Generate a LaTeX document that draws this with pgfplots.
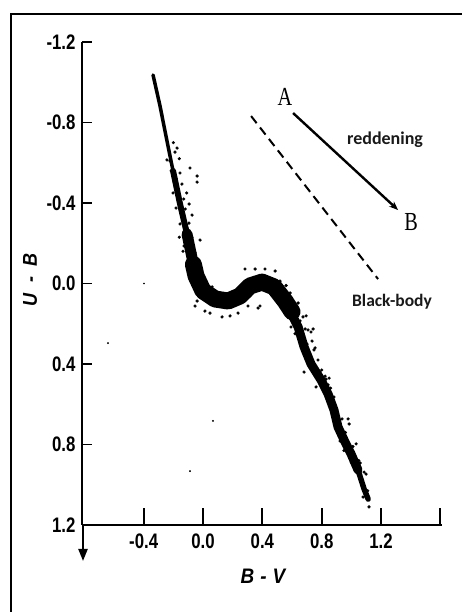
\documentclass[border=0pt]{standalone}
\usepackage{pgfplots}
\pgfplotsset{compat=1.18}
\usepackage{fontspec}
\usetikzlibrary{arrows.meta}
\newfontfamily\tickfont[FakeStretch=0.8]{Liberation Sans}
\newfontfamily\labfont[FakeStretch=0.9]{Liberation Sans}
\newfontfamily\serifcond[FakeStretch=0.78]{Liberation Serif}
\newfontfamily\carlito{Carlito}
\begin{document}
\begin{tikzpicture}[x=1pt,y=1pt]
\begin{axis}[at={(82pt,87pt)}, anchor=south west, scale only axis,
  width=360pt, height=483pt,
  xmin=-0.816, xmax=1.611, ymin=-1.2, ymax=1.2, y dir=reverse,
  axis x line=bottom, axis y line=left,
  axis line style={-, line width=2.2pt},
  tick align=inside,
  xtick={-0.4,0,0.4,0.8,1.2,1.6}, xticklabels={-0.4,0.0,0.4,0.8,1.2,{}},
  ytick={-1.2,-0.8,-0.4,0,0.4,0.8,1.2},
  yticklabels={-1.2,-0.8,-0.4,0.0,0.4,0.8,1.2},
  x tick style={line width=1.8pt, black, /pgfplots/major tick length=17pt},
  y tick style={line width=1.8pt, black, /pgfplots/major tick length=10pt},
  ticklabel style={font=\tickfont\bfseries\fontsize{21}{23}\selectfont},
  xticklabel style={yshift=-5pt}, yticklabel style={xshift=-3pt},
  clip=false]
% upper branch
\addplot[black, line width=3.5pt, line cap=round, line join=round] coordinates {
(-0.337,-1.036) (-0.290,-0.882) (-0.243,-0.708) (-0.202,-0.559) (-0.155,-0.395) (-0.108,-0.246)};
\addplot[black, line width=6pt, line cap=round, line join=round] coordinates {
(-0.202,-0.559) (-0.155,-0.395) (-0.108,-0.246) (-0.074,-0.127)};
\addplot[black, line width=11pt, line cap=round, line join=round] coordinates {
(-0.108,-0.246) (-0.074,-0.127) (-0.047,-0.037)};
% hump
\addplot[black, line width=17pt, line cap=round, line join=round] coordinates {
(-0.065,-0.095) (-0.047,-0.037) (0.000,0.037) (0.081,0.077) (0.169,0.087) (0.249,0.062) (0.317,0.012) (0.398,-0.007) (0.479,0.017) (0.553,0.087) (0.600,0.140)};
% lower branch
\addplot[black, line width=9pt, line cap=round, line join=round] coordinates {
(0.553,0.087) (0.573,0.117) (0.641,0.216) (0.681,0.315) (0.728,0.400) (0.796,0.480) (0.843,0.549) (0.883,0.629) (0.910,0.713) (0.951,0.778) (0.998,0.847) (1.045,0.927)};
\addplot[black, line width=5.5pt, line cap=round, line join=round] coordinates {
(0.998,0.847) (1.045,0.927) (1.086,1.022) (1.113,1.071)};
% scattered stars
\addplot[only marks, mark=*, mark size=1.4pt, black] coordinates {
(-0.175,-0.673) (-0.088,-0.574) (-0.040,-0.534) (-0.040,-0.504) (-0.094,-0.395)
(-0.074,-0.340) (-0.020,-0.216) (-0.189,-0.653) (-0.243,-0.614) (-0.155,-0.549)
(-0.142,-0.494) (-0.202,-0.450) (-0.182,-0.375) (-0.155,-0.296) (-0.108,-0.276)
(-0.128,-0.186) (-0.054,-0.152) (-0.223,-0.609) (-0.169,-0.460) (-0.128,-0.335)
(-0.200,-0.700) (-0.160,-0.620) (-0.130,-0.420) (-0.120,-0.370) (-0.095,-0.300)
(-0.075,-0.230) (-0.160,-0.230) (-0.180,-0.520) (-0.215,-0.560) (-0.110,-0.450)
(0.748,0.330) (0.775,0.380) (0.681,0.440) (0.978,0.673) (0.985,0.698)
(1.032,0.797) (1.086,0.937) (1.099,0.947) (1.079,1.061) (1.119,1.110)
(0.593,0.216) (0.674,0.166) (0.708,0.231) (0.728,0.241) (0.883,0.564)
(0.863,0.614) (0.587,0.161) (0.654,0.186) (0.688,0.226) (0.742,0.226)
(0.735,0.286) (0.755,0.320) (0.701,0.301) (0.823,0.460) (0.829,0.475)
(0.843,0.504) (0.762,0.514) (0.924,0.783) (1.018,0.882) (0.937,0.673)
(1.059,0.892) (0.384,0.112) (0.317,0.062) (0.371,0.122) (-0.101,-0.112)
(-0.040,0.087) (0.182,0.161) (0.047,0.147) (0.486,-0.062) (0.283,-0.072)
(-0.135,-0.160) (-0.088,-0.087) (0.013,-0.002) (0.061,0.017) (-0.054,0.112)
(0.013,0.137) (0.128,0.166) (0.236,0.147) (0.303,0.112) (0.351,-0.072)
(0.418,-0.072) (0.519,-0.012) (0.587,0.047) (0.641,0.097) (0.695,0.161)
(0.780,0.440) (0.810,0.520) (0.870,0.590) (0.900,0.660) (0.960,0.740)
(1.010,0.810) (1.050,0.880) (1.070,0.990) (0.620,0.250) (0.660,0.290)
(0.860,0.520) (0.850,0.470) (0.800,0.430) (0.890,0.700) (0.950,0.830)
(1.110,1.030) (1.000,0.890) (0.700,0.360) (0.630,0.140) (0.560,0.010)
};
\addplot[only marks, mark=*, mark size=0.7pt, black] coordinates {
(-0.398,0.000) (-0.088,0.932) (0.067,0.683) (-0.641,0.296)};
% annotations
\draw[line width=2.4pt, -{Stealth[length=9pt,width=7pt]}] (axis cs:0.607,-0.847) -- (axis cs:1.315,-0.365);
\draw[line width=2pt, dash pattern=on 9pt off 5.5pt] (axis cs:0.324,-0.832) -- (axis cs:1.180,-0.022);
\node[font=\serifcond\fontsize{26}{28}\selectfont] at (axis cs:0.553,-0.927) {A};
\node[font=\serifcond\fontsize{26}{28}\selectfont] at (axis cs:1.403,-0.306) {B};
\node[font=\carlito\bfseries\fontsize{18}{20}\selectfont, text=black!90] at (axis cs:1.227,-0.715) {reddening};
\node[font=\carlito\bfseries\fontsize{17.5}{20}\selectfont, text=black!90] at (axis cs:1.274,0.090) {Black-body};
\end{axis}
\draw[line width=2.2pt, -{Triangle[width=9pt,length=12pt]}] (83,87) -- (83,51);
\draw[line width=2pt] (11,0) -- (11,598) -- (462,598);
\node[rotate=90, font=\labfont\bfseries\itshape\fontsize{20}{22}\selectfont] at (30,332) {U\hspace{11pt}-\hspace{11pt}B};
\node[font=\labfont\bfseries\itshape\fontsize{21}{22}\selectfont] at (263,36) {B\hspace{6pt}-\hspace{6pt}V};
\pgfresetboundingbox
\useasboundingbox (0,0) rectangle (462,612);
\end{tikzpicture}
\end{document}
